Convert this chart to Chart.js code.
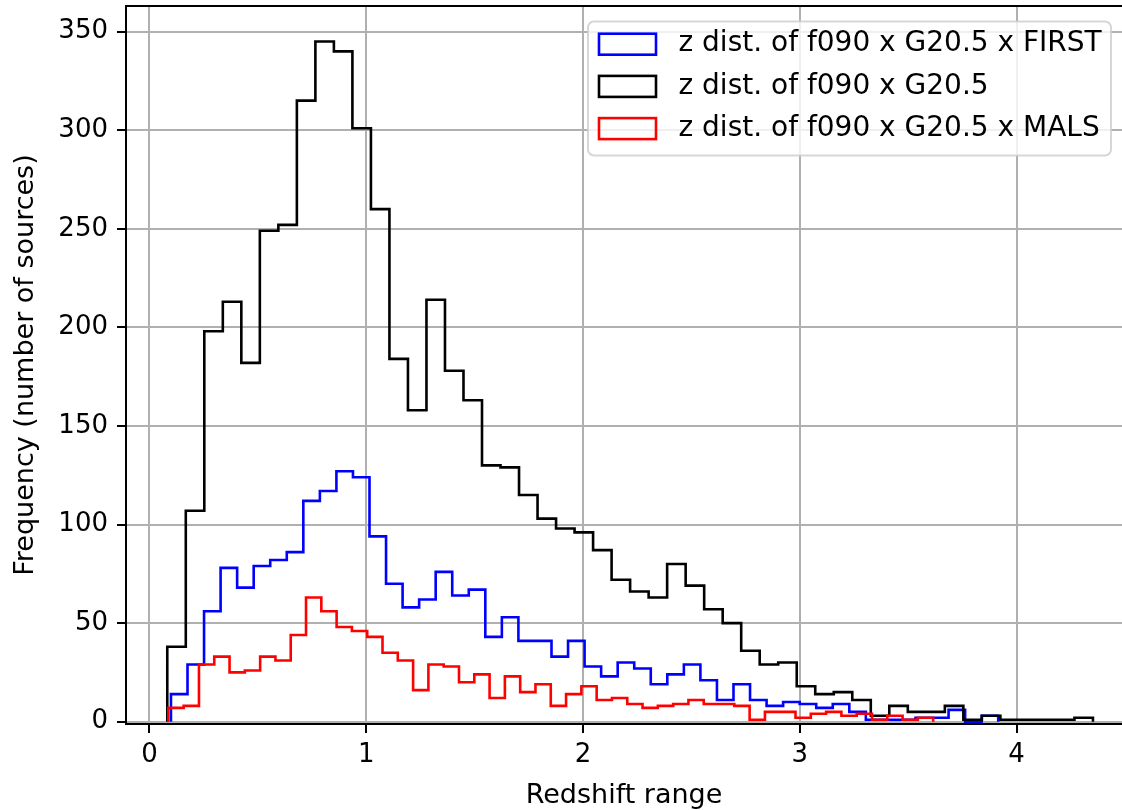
<!DOCTYPE html>
<html>
<head>
<meta charset="utf-8">
<script src="https://cdn.jsdelivr.net/npm/chart.js@4.4.1/dist/chart.umd.min.js"></script>
<style>
  html, body { margin: 0; padding: 0; background: #fff; overflow: hidden; }
  #wrap { width: 1122px; height: 810px; }
</style>
</head>
<body>
<div id="wrap"><canvas id="zHist" width="1122" height="810"></canvas></div>
<script>
// histogram data, 50 bins per sample, counts
var seriesNames = ['z dist. of f090 x G20.5 x FIRST', 'z dist. of f090 x G20.5', 'z dist. of f090 x G20.5 x MALS'];
var seriesColors = ['#0000ff', '#000000', '#ff0000'];

var firstRange = [0.099, 3.915];
var firstCounts = [14, 29, 56, 78, 68, 79, 82, 86, 112, 117,
                   127, 124, 94, 70, 58, 62, 76, 64, 67, 43,
                   53, 41, 41, 33, 41, 28, 23, 30, 27, 19,
                   24, 29, 21, 11, 19, 11, 8, 10, 9, 7,
                   9, 5, 1, 1, 1, 2, 2, 6, 0, 3];

var g205Range = [0.082, 4.352];
var g205Counts = [38, 107, 198, 213, 182, 249, 252, 315, 345, 340,
                  301, 260, 184, 158, 214, 178, 163, 130, 129, 115,
                  103, 98, 96, 87, 72, 66, 63, 80, 69, 57,
                  50, 36, 29, 30, 18, 14, 15, 11, 3, 8,
                  5, 5, 8, 1, 3, 1, 1, 1, 1, 2];

var malsRange = [0.087, 3.615];
var malsCounts = [7, 8, 29, 33, 25, 26, 33, 31, 44, 63,
                  56, 48, 46, 43, 35, 31, 16, 29, 28, 20,
                  24, 12, 23, 15, 19, 8, 14, 18, 11, 12,
                  9, 7, 8, 9, 11, 9, 9, 8, 1, 5,
                  5, 2, 4, 5, 3, 4, 1, 3, 1, 2];

var xTicks = [0, 1, 2, 3, 4];
var yTicks = [0, 50, 100, 150, 200, 250, 300, 350];

var fontFam = "'DejaVu Sans', sans-serif";
var tickSize = 26;
var labelSize = 27;
var legendSize = 28;

// outline of a step histogram: start on 0, one point per bin, back to 0
function stepOutline(range, counts) {
    var n = counts.length;
    var w = (range[1] - range[0]) / n;
    var pts = [{x: range[0], y: 0}];
    for (var i = 0; i < n; i++) {
        pts.push({x: range[0] + i * w, y: counts[i]});
    }
    pts.push({x: range[1], y: 0});
    return pts;
}

function histSet(idx, range, counts, order) {
    return {
        label: seriesNames[idx],
        data: stepOutline(range, counts),
        borderColor: seriesColors[idx],
        borderWidth: 2.6,
        stepped: true,
        fill: false,
        pointRadius: 0,
        order: order
    };
}

// top spine (matplotlib frame)
var topSpine = {
    id: 'topSpine',
    afterDraw: function(chart) {
        var a = chart.chartArea, c = chart.ctx;
        c.save();
        c.strokeStyle = '#000';
        c.lineWidth = 2;
        c.beginPath();
        c.moveTo(a.left - 1, a.top);
        c.lineTo(a.right, a.top);
        c.stroke();
        c.restore();
    }
};

// matplotlib style legend in the upper right corner
var boxLegend = {
    id: 'boxLegend',
    afterDraw: function(chart) {
        var a = chart.chartArea, c = chart.ctx;
        var bx = a.right - 534, by = a.top + 15.5, bw = 523, bh = 134;
        c.save();
        c.beginPath();
        c.roundRect(bx, by, bw, bh, 6);
        c.fillStyle = 'rgba(255,255,255,0.8)';
        c.fill();
        c.lineWidth = 2;
        c.strokeStyle = 'rgba(204,204,204,0.8)';
        c.stroke();
        c.font = legendSize + 'px ' + fontFam;
        c.textBaseline = 'middle';
        c.textAlign = 'left';
        for (var i = 0; i < seriesNames.length; i++) {
            var cy = by + 22.7 + i * 42.2;
            c.lineWidth = 2.6;
            c.strokeStyle = seriesColors[i];
            c.strokeRect(bx + 11, cy - 10.5, 57, 21);
            c.fillStyle = '#000';
            c.fillText(seriesNames[i], bx + 90.5, cy);
        }
        c.restore();
    }
};

var ctx = document.getElementById('zHist').getContext('2d');
var chart = new Chart(ctx, {
    type: 'line',
    data: {
        datasets: [
            histSet(0, firstRange, firstCounts, 3),
            histSet(1, g205Range, g205Counts, 2),
            histSet(2, malsRange, malsCounts, 1)
        ]
    },
    options: {
        responsive: false,
        animation: false,
        devicePixelRatio: 1,
        layout: { padding: { top: 6, left: 0, right: 0, bottom: 0 } },
        plugins: {
            legend: { display: false },
            tooltip: { enabled: false }
        },
        scales: {
            x: {
                type: 'linear',
                min: -0.1084,
                max: 4.486,
                afterBuildTicks: function(s) {
                    s.ticks = xTicks.map(function(v) { return {value: v}; });
                },
                afterFit: function(s) {
                    s.height = 86;
                    s.paddingLeft = 0;
                    s.paddingRight = 0;
                },
                ticks: {
                    color: '#000',
                    font: { family: fontFam, size: tickSize },
                    padding: 7,
                    maxRotation: 0,
                    autoSkip: false
                },
                grid: {
                    color: '#b0b0b0',
                    lineWidth: 2,
                    tickColor: '#000',
                    tickLength: 9,
                    tickWidth: 2
                },
                border: { color: '#000', width: 2 },
                title: {
                    display: true,
                    text: 'Redshift range',
                    color: '#000',
                    font: { family: fontFam, size: labelSize, lineHeight: 1 },
                    padding: { top: 0, bottom: 1 }
                }
            },
            y: {
                type: 'linear',
                min: -1.17,
                max: 363,
                afterBuildTicks: function(s) {
                    s.ticks = yTicks.map(function(v) { return {value: v}; });
                },
                afterFit: function(s) {
                    s.width = 126;
                    s.paddingTop = 0;
                    s.paddingBottom = 0;
                },
                ticks: {
                    color: '#000',
                    font: { family: fontFam, size: tickSize },
                    padding: 9
                },
                grid: {
                    color: '#b0b0b0',
                    lineWidth: 2,
                    tickColor: '#000',
                    tickLength: 9,
                    tickWidth: 2
                },
                border: { color: '#000', width: 2 },
                title: {
                    display: true,
                    text: 'Frequency (number of sources)',
                    color: '#000',
                    font: { family: fontFam, size: labelSize, lineHeight: 1 },
                    padding: { top: 12, bottom: 0 }
                }
            }
        }
    },
    plugins: [topSpine, boxLegend]
});
</script>
</body>
</html>
